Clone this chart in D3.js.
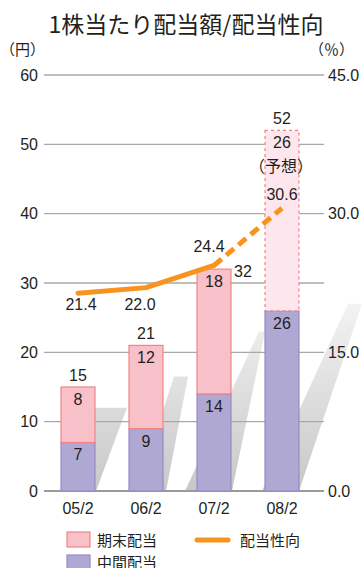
<!DOCTYPE html>
<html><head><meta charset="utf-8">
<script src="https://cdn.jsdelivr.net/npm/d3@7"></script>
<style>
html,body{margin:0;padding:0;background:#fff;}
svg{display:block;}
</style></head>
<body>
<svg id="chart" width="363" height="568"></svg>
<script>
// ---- data ----
const categories = ["05/2", "06/2", "07/2", "08/2"];
const interim = [7, 9, 14, 26];          // 中間配当
const yearEnd = [8, 12, 18, 26];         // 期末配当
const totals = [15, 21, 32, 52];
const payoutRatio = [21.4, 22.0, 24.4, 30.6]; // 配当性向 (%)
const forecastIndex = 3;
const leftTicks = [0, 10, 20, 30, 40, 50, 60];
const rightTicks = [0, 15, 30, 45];
const stripeTops = [12, 16.5, 23, 27];   // decorative background stripes (yen units)

const svg = d3.select("#chart");
const FN = "'Liberation Sans', Arial, sans-serif";
const FJ = "'Noto Sans CJK JP', sans-serif";
const TXT = "#231f20";

const x = d3.scaleBand().domain(categories).range([44, 316]).paddingInner(0.5).paddingOuter(0.25);
const y = d3.scaleLinear().domain([0, 60]).range([491, 75]);
const yr = d3.scaleLinear().domain([0, 45]).range([491, 75]);
const bw = x.bandwidth();

// gradient for stripes
const defs = svg.append("defs");
const g = defs.append("linearGradient").attr("id", "sg").attr("gradientUnits", "userSpaceOnUse")
  .attr("x1", 0).attr("x2", 0).attr("y1", 290).attr("y2", 491);
g.append("stop").attr("offset", 0).attr("stop-color", "#f6f6f6");
g.append("stop").attr("offset", 1).attr("stop-color", "#c8c8c8");

// decorative stripes (offsets relative to bar right edge)
const stripeShape = [
  {tl: -15, tr: 32, br: 1, bl: -30},
  {tl: 11, tr: 25, br: 3, bl: -26},
  {tl: 28, tr: 34, br: 1, bl: -46},
  {tl: 49, tr: 63, br: 0, bl: -37}
];
svg.append("g").selectAll("path").data(categories).join("path")
  .attr("d", (c, i) => {
    const r = x(c) + bw, s = stripeShape[i], t = y(stripeTops[i]), b = y(0);
    return `M${r + s.tl},${t}L${r + s.tr},${t}L${r + s.br},${b}L${r + s.bl},${b}Z`;
  })
  .attr("fill", "url(#sg)");

// title
svg.append("text").attr("x", 186).attr("y", 33).attr("text-anchor", "middle")
  .attr("font-family", FJ).attr("font-size", 23).attr("fill", TXT)
  .text("1株当たり配当額/配当性向");

svg.append("text").attr("x", 0).attr("y", 55).attr("font-family", FJ).attr("font-size", 15).attr("fill", TXT).text("（円）");
svg.append("text").attr("x", 309).attr("y", 55).attr("font-family", FJ).attr("font-size", 15).attr("fill", TXT).text("（％）");

// grid
svg.append("g").selectAll("line").data(leftTicks.filter(d => d > 0)).join("line")
  .attr("x1", 44).attr("x2", 324).attr("y1", d => y(d)).attr("y2", d => y(d))
  .attr("stroke", "#a8a8a8").attr("stroke-width", 1.3);
svg.append("line").attr("x1", 44).attr("x2", 324).attr("y1", y(0)).attr("y2", y(0))
  .attr("stroke", "#9a9a9a").attr("stroke-width", 2.2);

// left axis labels
svg.append("g").selectAll("text").data(leftTicks).join("text")
  .attr("x", 38).attr("y", d => y(d) + 5.5).attr("text-anchor", "end")
  .attr("font-family", FN).attr("font-size", 16).attr("fill", TXT).text(d => d);
// right axis labels
svg.append("g").selectAll("text").data(rightTicks).join("text")
  .attr("x", 328).attr("y", d => yr(d) + 5.5).attr("text-anchor", "start")
  .attr("font-family", FN).attr("font-size", 16).attr("fill", TXT).text(d => d.toFixed(1));

// category labels
svg.append("g").selectAll("text").data(categories).join("text")
  .attr("x", c => x(c) + bw / 2).attr("y", 514).attr("text-anchor", "middle")
  .attr("font-family", FN).attr("font-size", 16).attr("fill", TXT).text(c => c);

// bars
const bars = svg.append("g");
bars.selectAll("rect.int").data(categories).join("rect").attr("class", "int")
  .attr("x", c => x(c)).attr("width", bw)
  .attr("y", (c, i) => y(interim[i])).attr("height", (c, i) => y(0) - y(interim[i]))
  .attr("fill", "#afa8d3").attr("stroke", "#9b88c6").attr("stroke-width", 1.2);
bars.selectAll("rect.ye").data(categories).join("rect").attr("class", "ye")
  .attr("x", c => x(c)).attr("width", bw)
  .attr("y", (c, i) => y(interim[i] + yearEnd[i])).attr("height", (c, i) => y(interim[i]) - y(interim[i] + yearEnd[i]))
  .attr("fill", (c, i) => i === forecastIndex ? "#fde6ee" : "#f8c0c8")
  .attr("stroke", "#f08585").attr("stroke-width", 1.2)
  .attr("stroke-dasharray", (c, i) => i === forecastIndex ? "3,3" : null);

// segment labels
const lab = svg.append("g").attr("font-family", FN).attr("font-size", 16).attr("fill", TXT).attr("text-anchor", "middle");
categories.forEach((c, i) => {
  const cx = x(c) + bw / 2;
  lab.append("text").attr("x", cx).attr("y", y(interim[i]) + 18).text(interim[i]);
  lab.append("text").attr("x", cx).attr("y", y(interim[i] + yearEnd[i]) + 18).text(yearEnd[i]);
  if (i === 2) {
    lab.append("text").attr("x", x(c) + bw + 12).attr("y", y(totals[i]) + 8).text(totals[i]);
  } else {
    lab.append("text").attr("x", cx).attr("y", y(totals[i]) - 6).text(totals[i]);
  }
});
lab.append("text").attr("x", x(categories[forecastIndex]) + bw / 2 - 1)
  .attr("y", y(totals[forecastIndex]) + 42).attr("font-family", FJ).attr("font-size", 16).text("（予想）");

// payout line
const pts = categories.map((c, i) => [x(c) + bw / 2, yr(payoutRatio[i])]);
const line = d3.line();
svg.append("path").attr("d", line(pts.slice(0, forecastIndex)))
  .attr("fill", "none").attr("stroke", "#f7931e").attr("stroke-width", 5).attr("stroke-linecap", "round").attr("stroke-linejoin", "round");
svg.append("path").attr("d", line(pts.slice(forecastIndex - 1)))
  .attr("fill", "none").attr("stroke", "#f7931e").attr("stroke-width", 5).attr("stroke-dasharray", "10,6");

const lineLabelOffsets = [[3, 17], [-6, 22], [-5, -13], [0, -8]];
svg.append("g").selectAll("text").data(payoutRatio).join("text")
  .attr("x", (d, i) => pts[i][0] + lineLabelOffsets[i][0])
  .attr("y", (d, i) => pts[i][1] + lineLabelOffsets[i][1])
  .attr("text-anchor", "middle").attr("font-family", FN).attr("font-size", 16).attr("fill", TXT)
  .text(d => d.toFixed(1));

// legend
const lg = svg.append("g");
lg.append("rect").attr("x", 67).attr("y", 532).attr("width", 23).attr("height", 15)
  .attr("fill", "#f8c0c8").attr("stroke", "#f08585").attr("stroke-width", 1.2);
lg.append("text").attr("x", 97).attr("y", 546).attr("font-family", FJ).attr("font-size", 15).attr("fill", TXT).text("期末配当");
lg.append("rect").attr("x", 67).attr("y", 555).attr("width", 23).attr("height", 15)
  .attr("fill", "#afa8d3").attr("stroke", "#9b88c6").attr("stroke-width", 1.2);
lg.append("text").attr("x", 97).attr("y", 568).attr("font-family", FJ).attr("font-size", 15).attr("fill", TXT).text("中間配当");
lg.append("line").attr("x1", 197).attr("x2", 228).attr("y1", 540).attr("y2", 540)
  .attr("stroke", "#f7931e").attr("stroke-width", 5).attr("stroke-linecap", "round");
lg.append("text").attr("x", 240).attr("y", 546).attr("font-family", FJ).attr("font-size", 15).attr("fill", TXT).text("配当性向");
</script>
</body></html>
